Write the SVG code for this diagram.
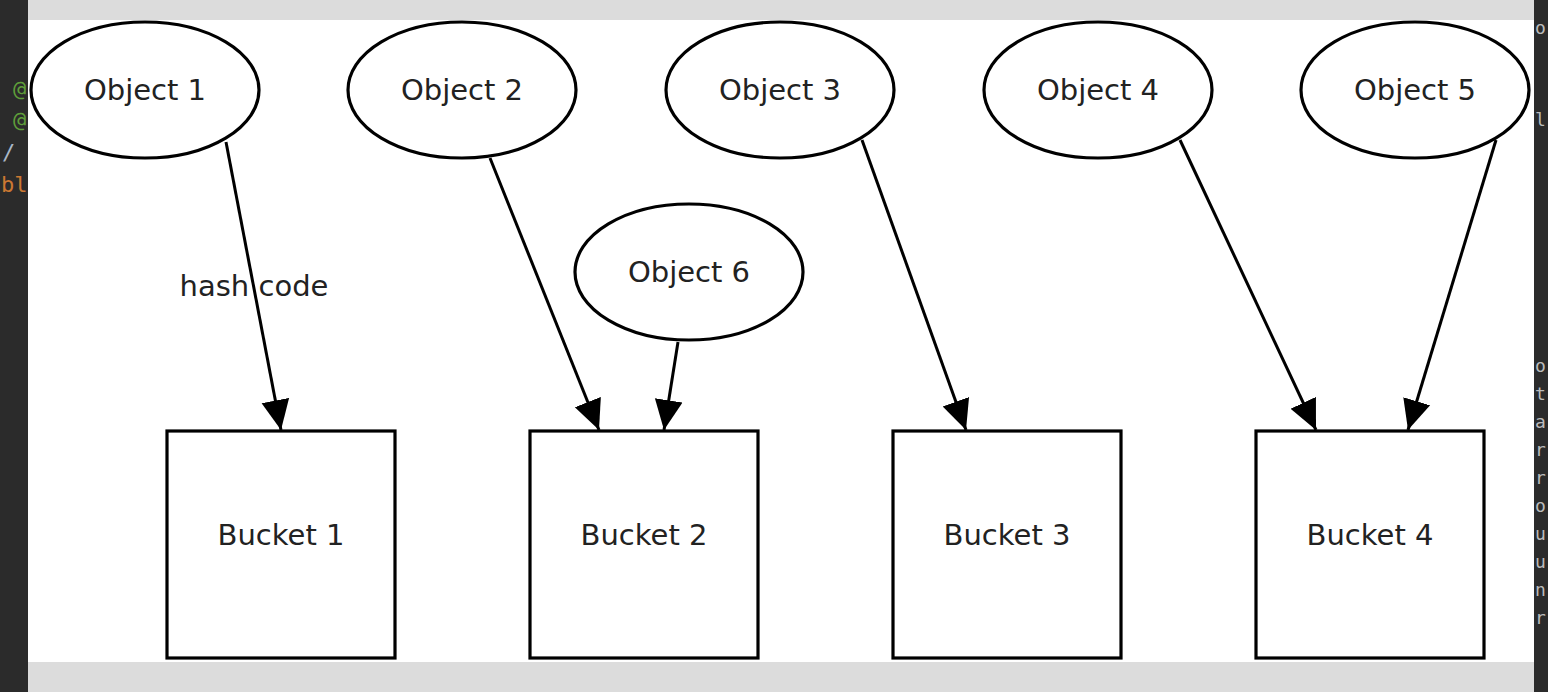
<svg xmlns="http://www.w3.org/2000/svg" width="1548" height="692" viewBox="0 0 1548 692">
<style>
.node ellipse,.node rect{fill:#fff;stroke:#000;stroke-width:3.2}
.lbl{font-family:"DejaVu Sans",sans-serif;font-size:29px;fill:#222;text-anchor:middle}
.edge{stroke:#000;stroke-width:3;fill:none;marker-end:url(#arr)}
.code{font-family:"DejaVu Sans Mono","Liberation Mono",monospace;font-size:22px}
.rc{font-family:"DejaVu Sans Mono","Liberation Mono",monospace;font-size:18px;fill:#bbb}
</style>
<defs>
<marker id="arr" markerUnits="userSpaceOnUse" markerWidth="32" markerHeight="32" refX="30" refY="15" orient="auto" viewBox="0 0 32 32">
<path d="M0,1 L30,15 L0,29 z" fill="#000"/>
</marker>
</defs>
<rect x="0" y="0" width="1548" height="692" fill="#dcdcdc"/>
<rect x="28" y="20" width="1506" height="642" fill="#fff"/>
<rect x="0" y="0" width="28" height="692" fill="#2b2b2b"/>
<rect x="1534" y="0" width="14" height="692" fill="#2b2b2b"/>
<g class="code">
<text x="13" y="96" fill="#5f9e3a">@</text>
<text x="13" y="127" fill="#5f9e3a">@</text>
<text x="2" y="160" fill="#a9b7c6">/</text>
<text x="1" y="192" fill="#cc7832">bl</text>
</g>
<g class="rc">
<text x="1535" y="34">o</text>
<text x="1535" y="126">l</text>
<text x="1535" y="372">o</text>
<text x="1535" y="400">t</text>
<text x="1535" y="428">a</text>
<text x="1535" y="456">r</text>
<text x="1535" y="484">r</text>
<text x="1535" y="512">o</text>
<text x="1535" y="540">u</text>
<text x="1535" y="568">u</text>
<text x="1535" y="596">n</text>
<text x="1535" y="624">r</text>
</g>
<g id="connectors">
<line class="edge" x1="226" y1="142" x2="281" y2="430"/>
<line class="edge" x1="490" y1="158" x2="599" y2="430"/>
<line class="edge" x1="678" y1="342" x2="664" y2="430"/>
<line class="edge" x1="862" y1="140" x2="966" y2="430"/>
<line class="edge" x1="1180" y1="140" x2="1316" y2="430"/>
<line class="edge" x1="1496" y1="140" x2="1408" y2="430"/>
<text class="lbl" x="254" y="296">hash code</text>
</g>
<g id="obj1" class="node"><ellipse cx="145" cy="90" rx="114" ry="68"/><text class="lbl" x="145" y="100">Object 1</text></g>
<g id="obj2" class="node"><ellipse cx="462" cy="90" rx="114" ry="68"/><text class="lbl" x="462" y="100">Object 2</text></g>
<g id="obj3" class="node"><ellipse cx="780" cy="90" rx="114" ry="68"/><text class="lbl" x="780" y="100">Object 3</text></g>
<g id="obj4" class="node"><ellipse cx="1098" cy="90" rx="114" ry="68"/><text class="lbl" x="1098" y="100">Object 4</text></g>
<g id="obj5" class="node"><ellipse cx="1415" cy="90" rx="114" ry="68"/><text class="lbl" x="1415" y="100">Object 5</text></g>
<g id="obj6" class="node"><ellipse cx="689" cy="272" rx="114" ry="68"/><text class="lbl" x="689" y="282">Object 6</text></g>
<g id="bucket1" class="node"><rect x="167" y="431" width="228" height="227"/><text class="lbl" x="281" y="545">Bucket 1</text></g>
<g id="bucket2" class="node"><rect x="530" y="431" width="228" height="227"/><text class="lbl" x="644" y="545">Bucket 2</text></g>
<g id="bucket3" class="node"><rect x="893" y="431" width="228" height="227"/><text class="lbl" x="1007" y="545">Bucket 3</text></g>
<g id="bucket4" class="node"><rect x="1256" y="431" width="228" height="227"/><text class="lbl" x="1370" y="545">Bucket 4</text></g>
</svg>
